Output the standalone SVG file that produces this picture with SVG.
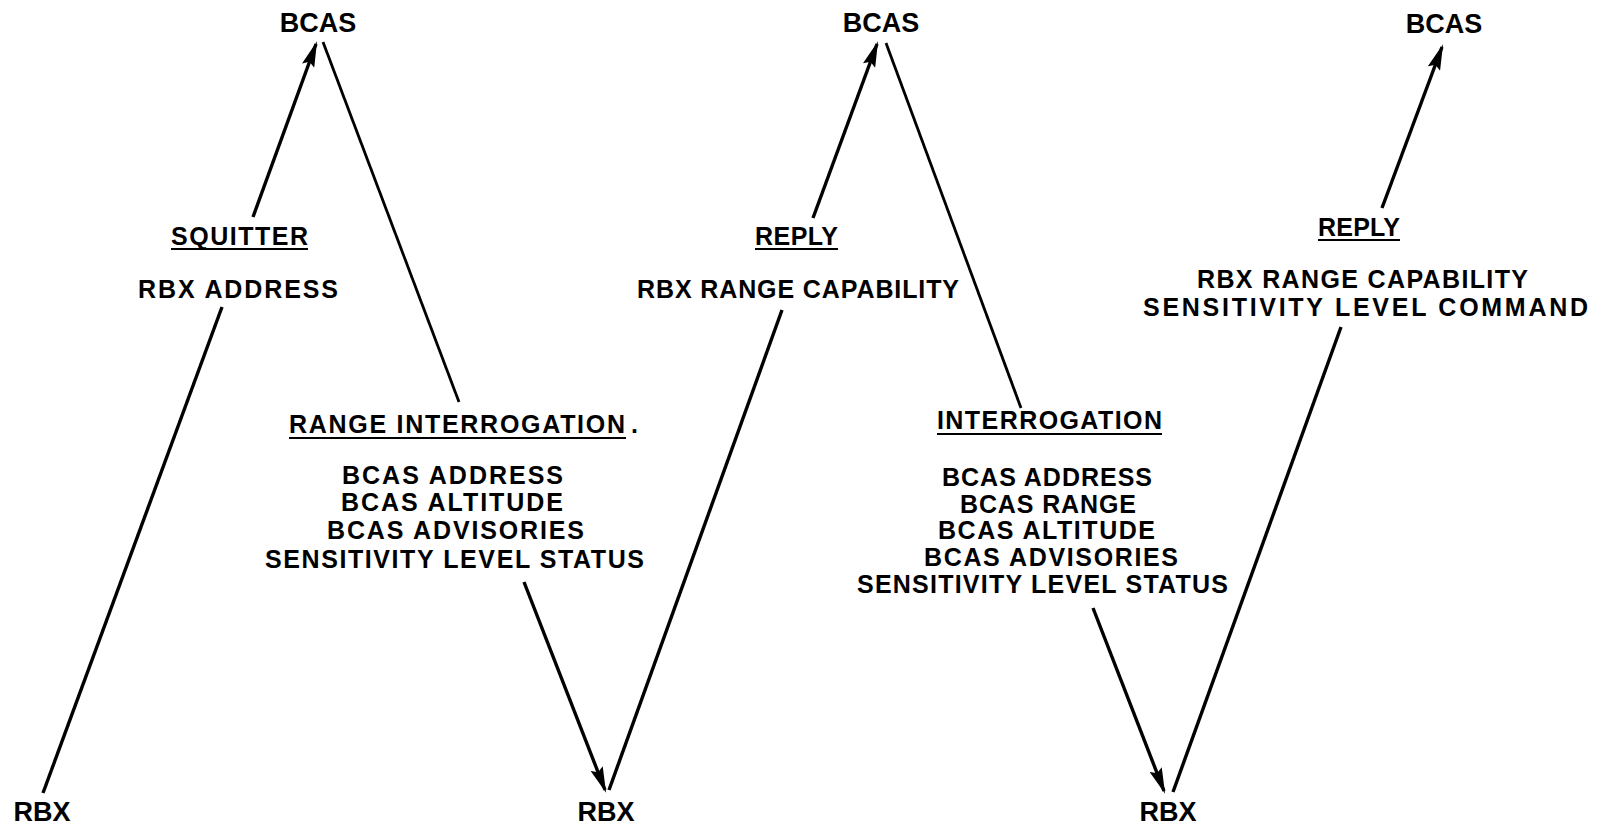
<svg xmlns="http://www.w3.org/2000/svg" width="1602" height="826" viewBox="0 0 1602 826">
  <style>
    text { font-family: "Liberation Sans", Arial, sans-serif; font-weight: bold; fill: #000; }
    .node { font-size: 27px; }
    .lbl { font-size: 25px; }
    .conn { stroke: #000; stroke-width: 3.4; fill: none; stroke-linecap: butt; }
    .thin { stroke-width: 2.8; }
    .ul { stroke: #000; stroke-width: 2.2; }
  </style>
  <defs>
    <marker id="ah" viewBox="0 0 26 13" refX="23" refY="6.5" markerWidth="26" markerHeight="13" markerUnits="userSpaceOnUse" orient="auto">
      <path d="M0,0 L26,6.5 L0,13 L4,6.5 z" fill="#000"/>
    </marker>
  </defs>
  <rect width="1602" height="826" fill="#fff"/>

  <g id="bcas1"><text class="node" x="318" y="32" text-anchor="middle">BCAS</text></g>
  <g id="bcas2"><text class="node" x="881" y="32" text-anchor="middle">BCAS</text></g>
  <g id="bcas3"><text class="node" x="1444" y="33" text-anchor="middle">BCAS</text></g>
  <g id="rbx1"><text class="node" x="42" y="821" text-anchor="middle">RBX</text></g>
  <g id="rbx2"><text class="node" x="606" y="821" text-anchor="middle">RBX</text></g>
  <g id="rbx3"><text class="node" x="1168" y="821" text-anchor="middle">RBX</text></g>

  <g id="connectors">
    <line class="conn" x1="43" y1="793" x2="222" y2="307"/>
    <line class="conn" x1="253" y1="217" x2="316" y2="44" marker-end="url(#ah)"/>
    <line class="conn thin" x1="323" y1="42" x2="459" y2="402"/>
    <line class="conn" x1="524" y1="582" x2="605" y2="790" marker-end="url(#ah)"/>
    <line class="conn" x1="609" y1="790" x2="782" y2="310"/>
    <line class="conn" x1="813" y1="218" x2="877" y2="44" marker-end="url(#ah)"/>
    <line class="conn thin" x1="886" y1="43" x2="1021" y2="408"/>
    <line class="conn" x1="1093" y1="608" x2="1164" y2="791" marker-end="url(#ah)"/>
    <line class="conn" x1="1173" y1="792" x2="1341" y2="327"/>
    <line class="conn" x1="1382" y1="208" x2="1442" y2="47" marker-end="url(#ah)"/>
  </g>

  <g id="squitter">
    <text class="lbl" x="171" y="245" textLength="137" lengthAdjust="spacing">SQUITTER</text>
    <line class="ul" x1="171" y1="249" x2="308" y2="249"/>
    <text class="lbl" x="138" y="298" textLength="200" lengthAdjust="spacing">RBX ADDRESS</text>
  </g>

  <g id="range-interrogation">
    <text class="lbl" y="433"><tspan x="289" textLength="336" lengthAdjust="spacing">RANGE INTERROGATION</tspan><tspan x="631">.</tspan></text>
    <line class="ul" x1="289" y1="438" x2="626" y2="438"/>
    <text class="lbl" x="342" y="484" textLength="221" lengthAdjust="spacing">BCAS ADDRESS</text>
    <text class="lbl" x="341" y="511" textLength="222" lengthAdjust="spacing">BCAS ALTITUDE</text>
    <text class="lbl" x="327" y="539" textLength="257" lengthAdjust="spacing">BCAS ADVISORIES</text>
    <text class="lbl" x="265" y="568" textLength="379" lengthAdjust="spacing">SENSITIVITY LEVEL STATUS</text>
  </g>

  <g id="reply1">
    <text class="lbl" x="755" y="245" textLength="83" lengthAdjust="spacing">REPLY</text>
    <line class="ul" x1="755" y1="249" x2="838" y2="249"/>
    <text class="lbl" x="637" y="298" textLength="322" lengthAdjust="spacing">RBX RANGE CAPABILITY</text>
  </g>

  <g id="interrogation">
    <text class="lbl" x="937" y="429" textLength="225" lengthAdjust="spacing">INTERROGATION</text>
    <line class="ul" x1="937" y1="434" x2="1162" y2="434"/>
    <text class="lbl" x="942" y="486" textLength="210" lengthAdjust="spacing">BCAS ADDRESS</text>
    <text class="lbl" x="960" y="513" textLength="176" lengthAdjust="spacing">BCAS RANGE</text>
    <text class="lbl" x="938" y="539" textLength="217" lengthAdjust="spacing">BCAS ALTITUDE</text>
    <text class="lbl" x="924" y="566" textLength="254" lengthAdjust="spacing">BCAS ADVISORIES</text>
    <text class="lbl" x="857" y="593" textLength="371" lengthAdjust="spacing">SENSITIVITY LEVEL STATUS</text>
  </g>

  <g id="reply2">
    <text class="lbl" x="1318" y="236" textLength="82" lengthAdjust="spacing">REPLY</text>
    <line class="ul" x1="1318" y1="240" x2="1400" y2="240"/>
    <text class="lbl" x="1197" y="288" textLength="331" lengthAdjust="spacing">RBX RANGE CAPABILITY</text>
    <text class="lbl" x="1143" y="316" textLength="445" lengthAdjust="spacing">SENSITIVITY LEVEL COMMAND</text>
  </g>
</svg>
